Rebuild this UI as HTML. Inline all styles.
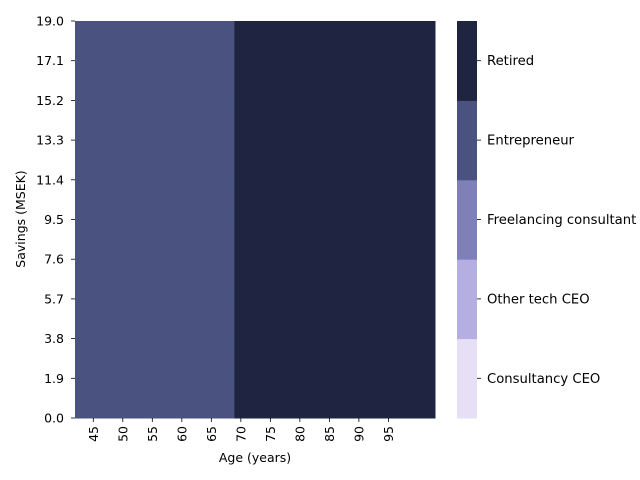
<!DOCTYPE html>
<html><head><meta charset="utf-8"><style>
body{margin:0;background:#fff;}
svg{display:block;font-family:"DejaVu Sans","Liberation Sans",sans-serif;}
text{font-size:12.5px;fill:#000;}
text.cb{font-size:13.2px;}
</style></head><body>
<svg id="chart" width="640" height="480">
<g id="cells"></g>
<g id="xaxis"></g>
<g id="yaxis"></g>
<g id="cbar"></g>
<text x="255" y="462" text-anchor="middle">Age (years)</text>
<text transform="translate(25,219) rotate(-90)" text-anchor="middle">Savings (MSEK)</text>
</svg>
<script>
const states = ["Consultancy CEO","Other tech CEO","Freelancing consultant","Entrepreneur","Retired"];
const stateColors = ["#e6dff5","#b5aee0","#7f80b8","#4a5380","#1f2540"];
const ages = [];
for (let a = 42; a <= 102; a++) ages.push(a);
const retireAge = 69;
const ageStates = ages.map(a => a < retireAge ? 3 : 4);
const savingsRows = [0,1.9,3.8,5.7,7.6,9.5,11.4,13.3,15.2,17.1];
const xTicks = [45,50,55,60,65,70,75,80,85,90,95];
const yTicks = ["0.0","1.9","3.8","5.7","7.6","9.5","11.4","13.3","15.2","17.1","19.0"];
const L=75,R=435,T=21,B=418,ymax=19;
const cw=(R-L)/ages.length;
const xs=a=>L+(a-ages[0])*cw;
const ys=v=>B-(v/ymax)*(B-T);
const NS="http://www.w3.org/2000/svg";
function mk(tag,attrs,parent){const e=document.createElementNS(NS,tag);for(const k in attrs)e.setAttribute(k,attrs[k]);parent.appendChild(e);return e;}
const cells=document.getElementById('cells');
ages.forEach((a,i)=>{
  savingsRows.forEach(s=>{
    const r=mk('rect',{x:xs(a),y:ys(s+1.9),width:cw+0.5,height:ys(s)-ys(s+1.9)+0.5,fill:stateColors[ageStates[i]]},cells);
    
    
  });
});
const xa=document.getElementById('xaxis');
xTicks.forEach(t=>{
  const x=xs(t)+0.6;
  mk('line',{x1:x,x2:x,y1:B,y2:B+4,stroke:'#000','stroke-width':0.8},xa);
  const tx=mk('text',{transform:`translate(${x+4.5},${B+8}) rotate(-90)`,'text-anchor':'end'},xa);
  tx.textContent=t;
  
  
});
const ya=document.getElementById('yaxis');
yTicks.forEach(t=>{
  const y=ys(parseFloat(t));
  mk('line',{x1:L-4,x2:L,y1:y,y2:y,stroke:'#000','stroke-width':0.8},ya);
  const tx=mk('text',{x:L-11,y:y+4.5,'text-anchor':'end'},ya);
  tx.textContent=t;
  
  
});
const cb=document.getElementById('cbar');
const segH=(B-T)/states.length;
states.forEach((s,i)=>{
  const y0=B-(i+1)*segH;
  const r=mk('rect',{x:457,y:y0,width:20,height:segH+0.5,fill:stateColors[i]},cb);
  
  
  const yc=y0+segH/2;
  mk('line',{x1:477,x2:481,y1:yc,y2:yc,stroke:'#000','stroke-width':0.8},cb);
  const tx=mk('text',{x:487,y:yc+4.5,class:'cb'},cb);
  tx.textContent=s;
  
  
});
</script>
</body></html>
